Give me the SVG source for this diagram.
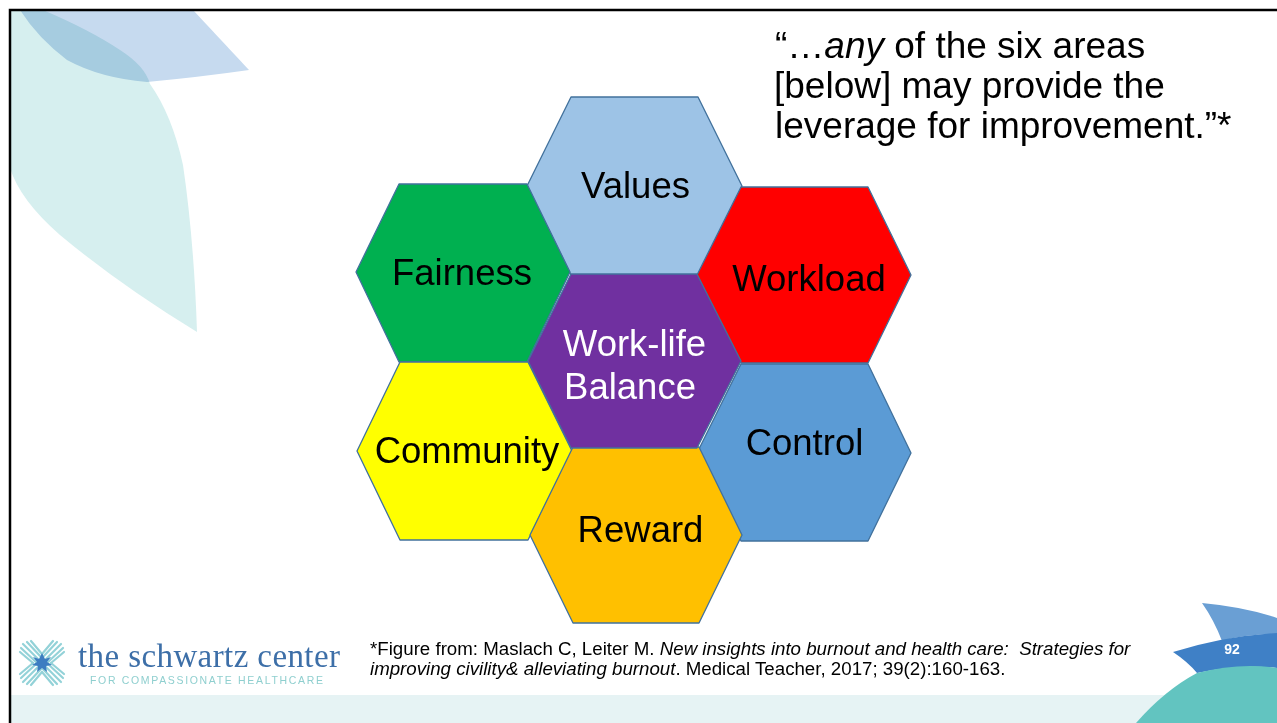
<svg xmlns="http://www.w3.org/2000/svg" width="1277" height="723" viewBox="0 0 1277 723">
  <style>
    .hex { stroke: #41719c; stroke-width: 1.3; stroke-linejoin: round; }
    .lbl { font-family: "Liberation Sans", Arial, sans-serif; font-size: 36.5px; text-anchor: middle; fill: #000; }
    .quote { font-family: "Liberation Sans", Arial, sans-serif; font-size: 37px; fill: #000; }
    .note { font-family: "Liberation Sans", Arial, sans-serif; font-size: 18.7px; fill: #000; }
  </style>

  <rect x="0" y="0" width="1277" height="723" fill="#ffffff"/>

  <!-- corner decoration, top left -->
  <g id="corner-top-left">
    <path d="M10 10 L43 10 Q 90 30 120 50 Q 145 66 150 84 Q 172 115 183 165 Q 194 240 197 332 Q 120 285 60 235 Q 20 200 10 168 Z" fill="#d6efef"/>
    <path d="M20 10 L193 10 L249 70 Q 200 77 147 82 Q 100 78 67 60 Q 38 38 20 10 Z" fill="#c6daef" style="mix-blend-mode:multiply"/>
  </g>

  <!-- footer band -->
  <rect x="10" y="695" width="1267" height="28" fill="#e6f3f4"/>

  <!-- corner decoration, bottom right -->
  <g id="corner-bottom-right">
    <path d="M1202 603 Q 1245 607 1277 618 L1277 634 Q 1245 634 1222 641 Q 1214 620 1202 603 Z" fill="#6a9fd4"/>
    <path d="M1173 652 Q 1225 636 1277 633 L1277 668 Q 1240 664 1197 673 Q 1188 662 1173 652 Z" fill="#3f80c6"/>
    <path d="M1136 723 Q 1165 690 1197 673 Q 1240 662 1277 668 L1277 723 Z" fill="#62c4c0"/>
    <text x="1232" y="654" text-anchor="middle" font-family="Liberation Sans, Arial, sans-serif" font-size="14" font-weight="bold" fill="#ffffff">92</text>
  </g>

  <!-- slide frame -->
  <path d="M10 723 V10 H1277" fill="none" stroke="#000" stroke-width="2.5"/>

  <!-- quotation -->
  <g id="quote">
    <text class="quote" x="775" y="58">“…<tspan font-style="italic">any</tspan> of the six areas</text>
    <text class="quote" x="774" y="98">[below] may provide the</text>
    <text class="quote" x="775" y="138">leverage for improvement.”*</text>
  </g>

  <!-- hexagon cluster -->
  <g id="connectors"></g>

  <g id="values">
    <polygon class="hex" fill="#9dc3e6" points="571,97 698,97 742,186 698,275 571,275 527,186"/>
    <text class="lbl" x="635.5" y="198">Values</text>
  </g>
  <g id="fairness">
    <polygon class="hex" fill="#00b050" points="399,184 527,184 570,272 527,362 399,362 356,272"/>
    <text class="lbl" x="462" y="285">Fairness</text>
  </g>
  <g id="workload">
    <polygon class="hex" fill="#ff0000" points="741,187 868,187 911,275 868,363 741,363 697,275"/>
    <text class="lbl" x="809" y="291">Workload</text>
  </g>
  <g id="community">
    <polygon class="hex" fill="#ffff00" points="400,362 528,362 572,451 528,540 400,540 357,451"/>
    <text class="lbl" x="467" y="463">Community</text>
  </g>
  <g id="control">
    <polygon class="hex" fill="#5b9bd5" points="741,364 868,364 911,453 868,541 741,541 697,453"/>
    <text class="lbl" x="804.5" y="455">Control</text>
  </g>
  <g id="reward">
    <polygon class="hex" fill="#ffc000" points="573,447 699,447 742,535 699,623 573,623 530,535"/>
    <text class="lbl" x="640.5" y="542">Reward</text>
  </g>
  <g id="work-life-balance">
    <polygon class="hex" fill="#7030a0" points="571,274 697,274 741,361 697,448 571,448 528,361"/>
    <text class="lbl" x="634.5" y="356" style="fill:#ffffff">Work-life</text>
    <text class="lbl" x="630" y="399" style="fill:#ffffff">Balance</text>
  </g>

  <!-- logo -->
  <g id="logo">
    <g transform="translate(42,663)" stroke="#93d2d8" stroke-width="2.2" stroke-linecap="round">
      <g id="ray">
        <line x1="3" y1="-3" x2="19" y2="-19"/>
        <line x1="6" y1="-1" x2="21" y2="-15"/>
        <line x1="1" y1="-6" x2="15" y2="-21"/>
        <line x1="9" y1="0" x2="22" y2="-11"/>
        <line x1="0" y1="-9" x2="11" y2="-22"/>
      </g>
      <use href="#ray" transform="rotate(90)"/>
      <use href="#ray" transform="rotate(180)"/>
      <use href="#ray" transform="rotate(270)"/>
      <polygon points="0,-10 3,-4 9,-6 5,-1 10,2 4,3 5,9 0,5 -5,9 -4,3 -10,2 -5,-1 -9,-6 -3,-4" fill="#3d7dc1" stroke="none"/>
    </g>
    <text x="78" y="667" font-family="Liberation Serif, Times New Roman, serif" font-size="33" fill="#3d6fa8" textLength="262">the schwartz center</text>
    <text x="90" y="684" font-family="Liberation Sans, Arial, sans-serif" font-size="10.5" fill="#8fcfcf" textLength="233">FOR COMPASSIONATE HEALTHCARE</text>
  </g>

  <!-- citation -->
  <g id="citation">
    <text class="note" x="370" y="655" xml:space="preserve">*Figure from: Maslach C, Leiter M. <tspan font-style="italic">New insights into burnout and health care:  Strategies for</tspan></text>
    <text class="note" x="370" y="675"><tspan font-style="italic">improving civility&amp; alleviating burnout</tspan>. Medical Teacher, 2017; 39(2):160-163.</text>
  </g>
</svg>
